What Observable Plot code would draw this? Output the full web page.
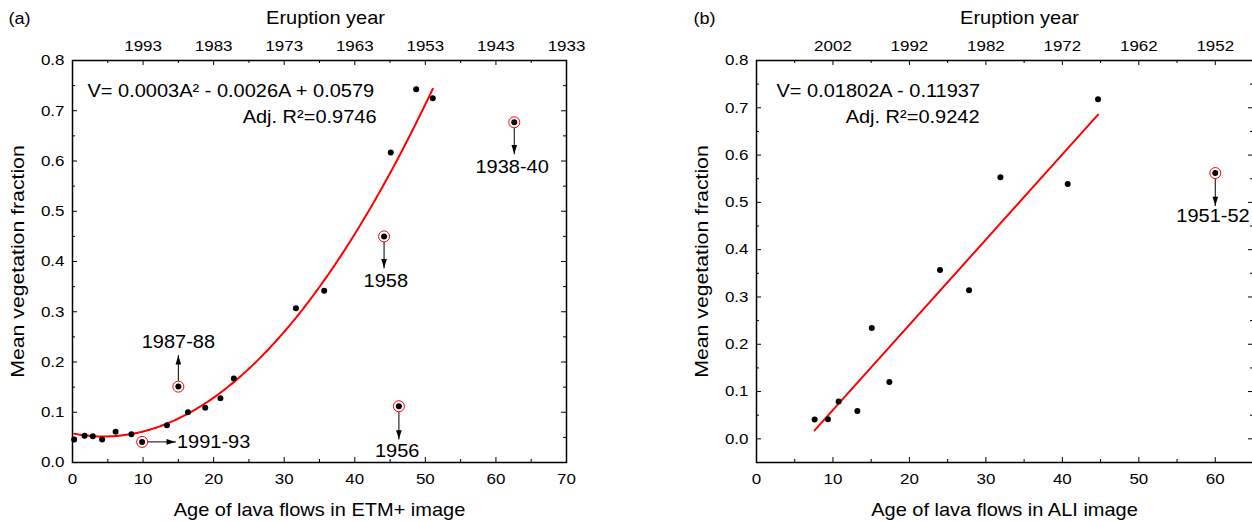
<!DOCTYPE html>
<html><head><meta charset="utf-8">
<script src="https://cdn.jsdelivr.net/npm/d3@7"></script>
<script src="https://cdn.jsdelivr.net/npm/@observablehq/plot@0.6"></script>
<style>
html,body{margin:0;padding:0;background:#fff;}
body{width:1252px;height:522px;overflow:hidden;font-family:"Liberation Sans",Arial,sans-serif;}
#wrap{position:relative;width:1252px;height:522px;overflow:hidden;}
.panel{position:absolute;top:0;}
.panel svg{max-width:none !important;}
</style></head><body>
<div id="wrap"><div class="panel" id="pa" style="left:0px;width:626px"></div><div class="panel" id="pb" style="left:626px;width:640px"></div></div>
<script>
// ---------- Panel (a): ETM+ image ----------
const etmAge = [0.24, 1.71, 2.88, 4.20, 6.11, 8.35, 13.38, 16.36, 18.81, 20.96, 22.86, 31.66, 35.66, 45.1, 48.7, 51.05];
const etmVeg = [0.046, 0.053, 0.052, 0.046, 0.061, 0.056, 0.074, 0.100, 0.109, 0.128, 0.167, 0.307, 0.342, 0.617, 0.743, 0.725];
// quadratic fit coefficients as drawn (c, b, a): V = a*A^2 + b*A + c
const etmFitCoef = [0.0579, -0.0028, 0.000318];
const etmOutAge = [9.87, 15.0, 46.25, 44.15, 62.6];
const etmOutVeg = [0.041, 0.151, 0.112, 0.450, 0.677];
const etmOutLabel = ["1991-93", "1987-88", "1956", "1958", "1938-40"];
const etmOutDir = ["right", "up", "down", "down", "down"];
const etmTipAge = [14.6, 15.0, 46.25, 44.15, 62.6];
const etmTipVeg = [0.041, 0.213, 0.0465, 0.387, 0.614];
const etmLabelAge = [14.8, 15.0, 46.0, 44.4, 62.3];
const etmLabelVeg = [0.041, 0.239, 0.023, 0.361, 0.587];
const etmXTicks = [0, 10, 20, 30, 40, 50, 60, 70];
const etmXMinor = [5, 15, 25, 35, 45, 55, 65];
const etmTopTicks = [10, 20, 30, 40, 50, 60, 70];
const etmTopLabels = ["1993", "1983", "1973", "1963", "1953", "1943", "1933"];
const etmYTicks = [0, 0.1, 0.2, 0.3, 0.4, 0.5, 0.6, 0.7, 0.8];
const etmYMinor = [0.05, 0.15, 0.25, 0.35, 0.45, 0.55, 0.65, 0.75];
const etmEquation = "V= 0.0003A\u00B2 - 0.0026A + 0.0579";
const etmR2 = "Adj. R\u00B2=0.9746";

// ---------- Panel (b): ALI image ----------
const aliAge = [7.60, 9.34, 10.74, 13.19, 15.07, 17.38, 24.0, 27.8, 31.9, 40.7, 44.67];
const aliVeg = [0.041, 0.0415, 0.079, 0.059, 0.2345, 0.120, 0.357, 0.314, 0.553, 0.539, 0.718];
const aliOutAge = [60.0];
const aliOutVeg = [0.562];
const aliOutLabel = ["1951-52"];
const aliOutDir = ["down"];
const aliTipAge = [60.0];
const aliTipVeg = [0.493];
const aliLabelAge = [59.7];
const aliLabelVeg = [0.470];
const aliXTicks = [0, 10, 20, 30, 40, 50, 60];
const aliXMinor = [5, 15, 25, 35, 45, 55, 65];
const aliTopTicks = [10, 20, 30, 40, 50, 60];
const aliTopLabels = ["2002", "1992", "1982", "1972", "1962", "1952"];
const aliYTicks = [0, 0.1, 0.2, 0.3, 0.4, 0.5, 0.6, 0.7, 0.8];
const aliYMinor = [-0.05, 0.05, 0.15, 0.25, 0.35, 0.45, 0.55, 0.65, 0.75];
const aliEquation = "V= 0.01802A - 0.11937";
const aliR2 = "Adj. R\u00B2=0.9242";

const yTitle = "Mean vegetation fraction";
const topTitle = "Eruption year";

// ---------- helpers ----------
const FONT = "Liberation Sans, Arial, sans-serif";
const TICK_FS = 15, BIG_FS = 17.7;
const STRETCH = 1.13, STRETCH_ROT = 1.2;

const arrowShapes = {
  down: {draw(c){c.moveTo(-2.8,-9);c.lineTo(2.8,-9);c.lineTo(0,0);c.closePath();}},
  up: {draw(c){c.moveTo(-2.8,9);c.lineTo(2.8,9);c.lineTo(0,0);c.closePath();}},
  right: {draw(c){c.moveTo(-9,-2.8);c.lineTo(-9,2.8);c.lineTo(0,0);c.closePath();}}
};

function frameTicks(fw, fh, xMaj, xMin, yMaj, yMin) {
  const maj = 5, mn = 3, sw = 1;
  const out = [];
  [[xMaj, maj], [xMin, mn]].forEach(([v, L]) => {
    out.push(Plot.tickX(v, {x: d => d, insetTop: fh - L, stroke: "black", strokeWidth: sw}));
    out.push(Plot.tickX(v, {x: d => d, insetBottom: fh - L, stroke: "black", strokeWidth: sw}));
  });
  [[yMaj, maj], [yMin, mn]].forEach(([v, L]) => {
    out.push(Plot.tickY(v, {y: d => d, insetRight: fw - L, stroke: "black", strokeWidth: sw}));
    out.push(Plot.tickY(v, {y: d => d, insetLeft: fw - L, stroke: "black", strokeWidth: sw}));
  });
  return out;
}

function annotationMarks(ages, vegs, labels, dirs, tipA, tipV, labA, labV) {
  const rows = ages.map((a, i) => ({a, v: vegs[i], label: labels[i], dir: dirs[i], ta: tipA[i], tv: tipV[i], la: labA[i], lv: labV[i]}));
  const marks = [
    Plot.arrow(rows, {x1: "a", y1: "v", x2: "ta", y2: "tv", headLength: 0, insetStart: 5.5, stroke: "black", strokeWidth: 1}),
  ];
  for (const dir of ["down", "up", "right"]) {
    const sub = rows.filter(r => r.dir === dir);
    if (sub.length) marks.push(Plot.dot(sub, {x: "ta", y: "tv", symbol: arrowShapes[dir], r: 3, fill: "black", stroke: "none"}));
  }
  marks.push(Plot.dot(rows, {x: "a", y: "v", r: 5.5, stroke: "#ff0000", strokeWidth: 1, fill: "white"}));
  marks.push(Plot.dot(rows, {x: "a", y: "v", r: 3, fill: "black"}));
  marks.push(Plot.text(rows.filter(r => r.dir !== "right"), {x: "la", y: "lv", text: "label", fontSize: BIG_FS, textAnchor: "middle", lineAnchor: "middle", fill: "black"}));
  marks.push(Plot.text(rows.filter(r => r.dir === "right"), {x: "la", y: "lv", text: "label", fontSize: BIG_FS, textAnchor: "start", lineAnchor: "middle", fill: "black"}));
  return marks;
}

function txt(s, o) { return Plot.text([s], {lineAnchor: "middle", textAnchor: "middle", fontSize: BIG_FS, ...o}); }

function stretchTexts(svg) {
  svg.querySelectorAll("text").forEach(t => {
    const w = t.getComputedTextLength();
    const rot = (t.getAttribute("transform") || "").includes("rotate");
    if (w > 0) { t.setAttribute("textLength", (w * (rot ? STRETCH_ROT : STRETCH)).toFixed(2)); t.setAttribute("lengthAdjust", "spacingAndGlyphs"); }
  });
}

function axisLabels(xT, topT, topL, yT) {
  return [
    Plot.text(xT, {x: d => d, frameAnchor: "bottom", dy: 17, lineAnchor: "middle", textAnchor: "middle", text: d => String(d), fontSize: TICK_FS}),
    Plot.text(topT, {x: d => d, frameAnchor: "top", dy: -14, lineAnchor: "middle", textAnchor: "middle", text: (d, i) => topL[i], fontSize: TICK_FS}),
    Plot.text(yT, {y: d => d, frameAnchor: "left", dx: -8, textAnchor: "end", lineAnchor: "middle", text: d => d.toFixed(1), fontSize: TICK_FS})
  ];
}

const baseStyle = {fontFamily: FONT, fontSize: TICK_FS + "px", background: "white", color: "black", overflow: "visible", maxWidth: "none"};

// ---------- Panel (a) ----------
{
  const W = 626, H = 522, ml = 72, mr = 60, mt = 60, mb = 60;
  const fw = W - ml - mr, fh = H - mt - mb;
  const pts = etmAge.map((a, i) => ({a, v: etmVeg[i]}));
  const [c0, c1, c2] = etmFitCoef;
  const amin = d3.min(etmAge), amax = d3.max(etmAge);
  const curve = d3.range(0, 201).map(i => { const a = amin + (amax - amin) * i / 200; return {a, v: c2 * a * a + c1 * a + c0}; });
  const svg = Plot.plot({
    width: W, height: H, marginLeft: ml, marginRight: mr, marginTop: mt, marginBottom: mb,
    style: baseStyle,
    x: {domain: [0, 70], axis: null},
    y: {domain: [0, 0.8], axis: null},
    marks: [
      ...frameTicks(fw, fh, etmXTicks, etmXMinor, etmYTicks, etmYMinor),
      Plot.frame({stroke: "black", strokeWidth: 1.5}),
      Plot.line(curve, {x: "a", y: "v", stroke: "#ff0000", strokeWidth: 2}),
      Plot.dot(pts, {x: "a", y: "v", r: 3, fill: "black"}),
      ...annotationMarks(etmOutAge, etmOutVeg, etmOutLabel, etmOutDir, etmTipAge, etmTipVeg, etmLabelAge, etmLabelVeg),
      ...axisLabels(etmXTicks, etmTopTicks, etmTopLabels, etmYTicks),
      txt(etmEquation, {frameAnchor: "top-left", dx: 15, dy: 31, textAnchor: "start"}),
      txt(etmR2, {frameAnchor: "top-left", dx: 304, dy: 57, textAnchor: "end"}),
      txt(topTitle, {frameAnchor: "top-left", dx: 253, dy: -42}),
      txt("Age of lava flows in ETM+ image", {frameAnchor: "bottom-left", dx: 247, dy: 48}),
      txt(yTitle, {frameAnchor: "left", dx: -54, rotate: -90}),
      txt("(a)", {frameAnchor: "top-left", dx: -64, dy: -42, textAnchor: "start", fontSize: 16})
    ]
  });
  document.getElementById("pa").appendChild(svg);
  stretchTexts(svg);
}

// ---------- Panel (b) ----------
{
  const W = 640, H = 522, ml = 130, mr = 13, mt = 60, mb = 60;
  const fw = W - ml - mr, fh = H - mt - mb;
  const pts = aliAge.map((a, i) => ({a, v: aliVeg[i]}));
  const svg = Plot.plot({
    width: W, height: H, marginLeft: ml, marginRight: mr, marginTop: mt, marginBottom: mb,
    style: baseStyle,
    x: {domain: [0, 65], axis: null},
    y: {domain: [-0.05, 0.8], axis: null},
    marks: [
      ...frameTicks(fw, fh, aliXTicks, aliXMinor, aliYTicks, aliYMinor),
      Plot.frame({stroke: "black", strokeWidth: 1.5}),
      Plot.linearRegressionY(pts, {x: "a", y: "v", stroke: "#ff0000", strokeWidth: 2, ci: 0}),
      Plot.dot(pts, {x: "a", y: "v", r: 3, fill: "black"}),
      ...annotationMarks(aliOutAge, aliOutVeg, aliOutLabel, aliOutDir, aliTipAge, aliTipVeg, aliLabelAge, aliLabelVeg),
      ...axisLabels(aliXTicks, aliTopTicks, aliTopLabels, aliYTicks),
      txt(aliEquation, {frameAnchor: "top-left", dx: 20, dy: 31, textAnchor: "start"}),
      txt(aliR2, {frameAnchor: "top-left", dx: 223, dy: 57, textAnchor: "end"}),
      txt(topTitle, {frameAnchor: "top-left", dx: 263, dy: -42}),
      txt("Age of lava flows in ALI image", {frameAnchor: "bottom-left", dx: 248, dy: 48}),
      txt(yTitle, {frameAnchor: "left", dx: -54, rotate: -90}),
      txt("(b)", {frameAnchor: "top-left", dx: -63, dy: -42, textAnchor: "start", fontSize: 16})
    ]
  });
  document.getElementById("pb").appendChild(svg);
  stretchTexts(svg);
}
</script>
</body></html>
